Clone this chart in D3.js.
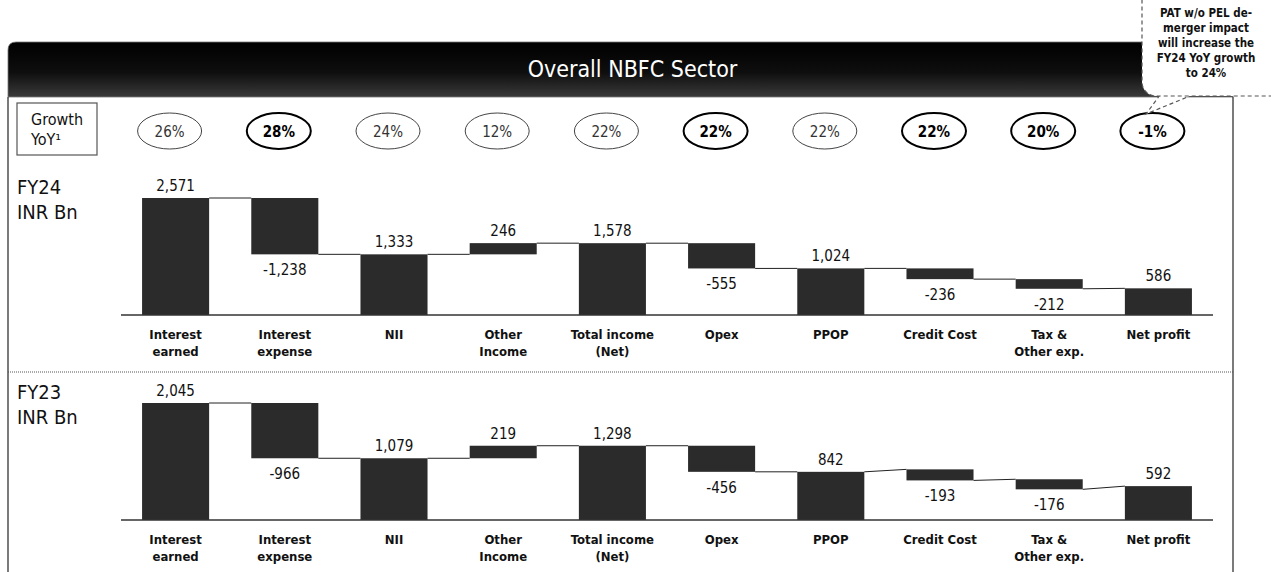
<!DOCTYPE html>
<html>
<head>
<meta charset="utf-8">
<script src="https://cdn.jsdelivr.net/npm/d3@7"></script>
<style>
  body { margin: 0; background: #fff; }
  svg { display: block; font-family: "DejaVu Sans Condensed", "DejaVu Sans", sans-serif; font-stretch: condensed; }
</style>
</head>
<body>
<div id="canvas"></div>
<script>
const categories = ["Interest earned", "Interest expense", "NII", "Other Income", "Total income (Net)",
                    "Opex", "PPOP", "Credit Cost", "Tax & Other exp.", "Net profit"];
const catLines = [["Interest", "earned"], ["Interest", "expense"], ["NII"], ["Other", "Income"], ["Total income", "(Net)"],
                  ["Opex"], ["PPOP"], ["Credit Cost"], ["Tax &", "Other exp."], ["Net profit"]];
const kinds = ["total", "delta", "total", "delta", "total", "delta", "total", "delta", "delta", "total"];
const growth = ["26%", "28%", "24%", "12%", "22%", "22%", "22%", "22%", "20%", "-1%"];
const growthBold = [false, true, false, false, false, true, false, true, true, true];
const fy24 = [2571, -1238, 1333, 246, 1578, -555, 1024, -236, -212, 586];
const fy23 = [2045, -966, 1079, 219, 1298, -456, 842, -193, -176, 592];
// start level of the delta bars as drawn in the source (null = follow previous bar)
const fy24Start = [null, null, null, null, null, null, null, null, null, null];
const fy23Start = [null, null, null, null, null, null, null, 885, 712, null];
const noteLines = ["PAT w/o PEL de-", "merger impact", "will increase the", "FY24 YoY growth", "to 24%"];

const w = 1271, h = 572;
const frame = {left: 8, right: 1233, top: 42, barBottom: 97};

const svg = d3.select("#canvas").append("svg")
  .attr("width", w).attr("height", h);

const defs = svg.append("defs");
const grad = defs.append("linearGradient").attr("id", "titleGrad")
  .attr("x1", 0).attr("y1", 0).attr("x2", 0).attr("y2", 1);
grad.append("stop").attr("offset", "0%").attr("stop-color", "#000");
grad.append("stop").attr("offset", "55%").attr("stop-color", "#0e0e0e");
grad.append("stop").attr("offset", "100%").attr("stop-color", "#3a3a3a");

// frame
svg.append("path")
  .attr("d", `M${frame.left},${frame.barBottom} V${frame.top + 8} Q${frame.left},${frame.top} ${frame.left + 8},${frame.top} H${frame.right} V${frame.barBottom} Z`)
  .attr("fill", "url(#titleGrad)")
  .attr("stroke", "#777").attr("stroke-width", 0.8);
svg.append("line").attr("x1", frame.left).attr("x2", frame.left)
  .attr("y1", frame.barBottom).attr("y2", h).attr("stroke", "#222").attr("stroke-width", 1.2);
svg.append("line").attr("x1", frame.right).attr("x2", frame.right)
  .attr("y1", frame.barBottom).attr("y2", h).attr("stroke", "#222").attr("stroke-width", 1.2);

svg.append("text")
  .attr("x", (frame.left + frame.right) / 2 + 12).attr("y", 77)
  .attr("text-anchor", "middle")
  .attr("fill", "#fff").attr("font-size", 23)
  .text("Overall NBFC Sector");

// x scale shared by both panels
const x = d3.scaleBand()
  .domain(categories)
  .range([121, 1213])
  .paddingInner(0.386)
  .paddingOuter(0.193);

// growth row
svg.append("rect")
  .attr("x", 17).attr("y", 103).attr("width", 80).attr("height", 52)
  .attr("fill", "#fff").attr("stroke", "#555").attr("stroke-width", 1.2);
svg.append("text").attr("x", 31).attr("y", 125).attr("font-size", 16).attr("fill", "#111").text("Growth");
svg.append("text").attr("x", 31).attr("y", 145).attr("font-size", 16).attr("fill", "#111").text("YoY¹");

const gr = svg.append("g").selectAll("g")
  .data(categories)
  .enter().append("g")
  .attr("transform", d => `translate(${x(d) + x.bandwidth() / 2 - 6},131)`);
gr.append("ellipse")
  .attr("rx", 32).attr("ry", 18)
  .attr("fill", "#fff")
  .attr("stroke", (d, i) => growthBold[i] ? "#000" : "#444")
  .attr("stroke-width", (d, i) => growthBold[i] ? 2 : 1);
gr.append("text")
  .attr("text-anchor", "middle").attr("y", 6)
  .attr("font-size", 15)
  .attr("font-weight", (d, i) => growthBold[i] ? "bold" : "normal")
  .attr("fill", (d, i) => growthBold[i] ? "#000" : "#333")
  .text((d, i) => growth[i]);

// callout
const note = svg.append("g");
note.append("path")
  .attr("d", "M1160,95 L1146,114 L1190,96")
  .attr("fill", "#fff").attr("stroke", "#555").attr("stroke-width", 1.2)
  .attr("stroke-dasharray", "4,3");
note.append("rect")
  .attr("x", 1142).attr("y", -20).attr("width", 150).attr("height", 116)
  .attr("rx", 14)
  .attr("fill", "#fff").attr("stroke", "#555").attr("stroke-width", 1.2)
  .attr("stroke-dasharray", "4,3");
note.selectAll("text")
  .data(noteLines)
  .enter().append("text")
  .attr("x", 1206).attr("y", (d, i) => 17 + i * 15)
  .attr("text-anchor", "middle")
  .attr("font-size", 11.5).attr("font-weight", "bold").attr("fill", "#111")
  .text(d => d);

// separator
svg.append("line")
  .attr("x1", frame.left).attr("x2", frame.right)
  .attr("y1", 372).attr("y2", 372)
  .attr("stroke", "#555").attr("stroke-width", 1)
  .attr("stroke-dasharray", "1,1");

function buildBars(values, starts) {
  let level = 0;
  return values.map((v, i) => {
    let b;
    if (kinds[i] === "total") {
      b = {lo: 0, hi: v, inLevel: v, outLevel: v};
      level = v;
    } else {
      const s = starts[i] != null ? starts[i] : level;
      const e = s + v;
      b = {lo: Math.min(s, e), hi: Math.max(s, e), inLevel: s, outLevel: e};
      level = e;
    }
    b.cat = categories[i];
    b.value = v;
    b.lines = catLines[i];
    return b;
  });
}

function panel(name, values, starts, baseY) {
  const bars = buildBars(values, starts);
  const y = d3.scaleLinear()
    .domain([0, d3.max(values)])
    .range([baseY, baseY - 117]);

  const g = svg.append("g").classed("panel", true);

  g.append("text").attr("x", 17).attr("y", baseY - 121).attr("font-size", 20).attr("fill", "#111").text(name);
  g.append("text").attr("x", 17).attr("y", baseY - 96).attr("font-size", 20).attr("fill", "#111").text("INR Bn");

  // connectors
  g.append("g").selectAll("line")
    .data(bars.slice(0, -1))
    .enter().append("line")
    .attr("x1", d => x(d.cat) + x.bandwidth())
    .attr("x2", (d, i) => x(bars[i + 1].cat))
    .attr("y1", d => y(d.outLevel))
    .attr("y2", (d, i) => y(bars[i + 1].inLevel))
    .attr("stroke", "#222").attr("stroke-width", 1);

  g.append("g").selectAll("rect")
    .data(bars)
    .enter().append("rect")
    .attr("x", d => x(d.cat))
    .attr("width", x.bandwidth())
    .attr("y", d => y(d.hi))
    .attr("height", d => y(d.lo) - y(d.hi))
    .attr("fill", "#2b2b2b");

  // baseline
  g.append("line")
    .attr("x1", x.range()[0]).attr("x2", x.range()[1])
    .attr("y1", baseY).attr("y2", baseY)
    .attr("stroke", "#333").attr("stroke-width", 1.5);

  // value labels
  g.append("g").selectAll("text")
    .data(bars)
    .enter().append("text")
    .attr("x", d => x(d.cat) + x.bandwidth() / 2)
    .attr("y", d => d.value >= 0 ? y(d.hi) - 7 : y(d.lo) + 21)
    .attr("text-anchor", "middle")
    .attr("font-size", 15).attr("fill", "#111")
    .text(d => d3.format(",")(d.value).replace("−", "-"));

  // category labels
  const cl = g.append("g").selectAll("text")
    .data(bars)
    .enter().append("text")
    .attr("x", d => x(d.cat) + x.bandwidth() / 2)
    .attr("y", baseY + 24)
    .attr("text-anchor", "middle")
    .attr("font-size", 13).attr("font-weight", "bold").attr("fill", "#111");
  cl.selectAll("tspan")
    .data(d => d.lines.map(t => ({t, cx: x(d.cat) + x.bandwidth() / 2})))
    .enter().append("tspan")
    .attr("x", d => d.cx)
    .attr("dy", (d, i) => i === 0 ? 0 : 17)
    .text(d => d.t);
}

panel("FY24", fy24, fy24Start, 315);
panel("FY23", fy23, fy23Start, 520);
</script>
</body>
</html>
